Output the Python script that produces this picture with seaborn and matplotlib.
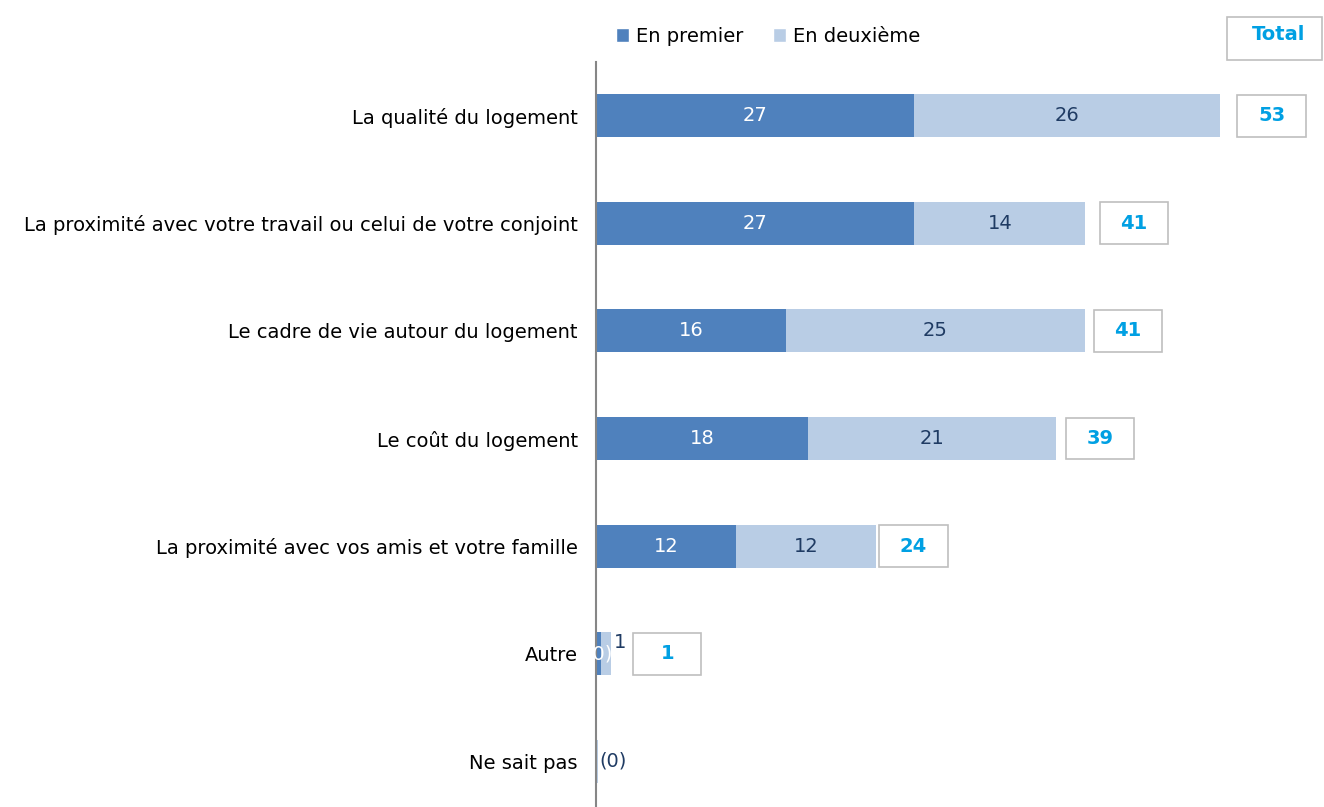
import matplotlib
matplotlib.use("Agg")
import matplotlib.pyplot as plt
from matplotlib.patches import Rectangle, Patch
import seaborn as sns
import pandas as pd

# ---- data ----
categories = [
    "La qualité du logement",
    "La proximité avec votre travail ou celui de votre conjoint",
    "Le cadre de vie autour du logement",
    "Le coût du logement",
    "La proximité avec vos amis et votre famille",
    "Autre",
    "Ne sait pas",
]
# unrounded shares as drawn (labels show the rounded values)
en_premier = [27.0, 27.0, 16.1, 18.0, 11.9, 0.4, 0.0]
en_deuxieme = [26.0, 14.55, 25.45, 21.05, 11.9, 0.9, 0.15]
totals = [53, 41, 41, 39, 24, 1, None]
premier_labels = ["27", "27", "16", "18", "12", "(0)", ""]
deuxieme_labels = ["26", "14", "25", "21", "12", "1", "(0)"]

# gap (in value units) between bar end and its "total" box, as in the original
box_gaps = [1.45, 1.2, 0.7, 0.85, 0.25, 1.85, 0]

DARK = "#4F81BD"
LIGHT = "#B9CDE5"
NAVY = "#1F3B63"
CYAN = "#00A0E3"
FS = 14

df = pd.DataFrame({
    "cat": categories,
    "first": en_premier,
    "second": en_deuxieme,
})
df["cum"] = df["first"] + df["second"]

sns.set_style("white")
plt.rcParams["font.family"] = "sans-serif"
plt.rcParams["font.sans-serif"] = ["DejaVu Sans"]

fig = plt.figure(figsize=(13.24, 8.07), dpi=100)
ax = fig.add_axes([596 / 1324, -8 / 807, 728 / 1324, 753 / 807])

sns.barplot(data=df, x="cum", y="cat", color=LIGHT, width=0.4, ax=ax,
            saturation=1, orient="h", linewidth=0)
sns.barplot(data=df, x="first", y="cat", color=DARK, width=0.4, ax=ax,
            saturation=1, orient="h", linewidth=0)

ax.set_xlim(0, 728 / 11.78)
ax.set_ylim(len(categories) - 0.5, -0.5)
ax.set_xlabel("")
ax.set_ylabel("")
ax.set_xticks([])

for s in ["top", "right", "bottom"]:
    ax.spines[s].set_visible(False)
ax.spines["left"].set_color("#868686")
ax.spines["left"].set_linewidth(1.5)

ax.set_yticks(range(len(categories)))
ax.set_yticklabels(categories, fontsize=FS, color="#000000")
ax.tick_params(axis="y", which="major", length=0, pad=13)
ax.set_yticks([i - 0.5 for i in range(len(categories))], minor=True)
ax.tick_params(axis="y", which="minor", length=6, width=1.2, color="#868686",
               direction="out")

for i, (f, s, tot) in enumerate(zip(en_premier, en_deuxieme, totals)):
    fl, sl = premier_labels[i], deuxieme_labels[i]
    if f >= 2:
        ax.text(f / 2, i, fl, ha="center", va="center", color="white", fontsize=FS)
        ax.text(f + s / 2, i, sl, ha="center", va="center", color=NAVY, fontsize=FS)
    elif fl:
        ax.text(f / 2 + 0.05, i, fl, ha="center", va="center", color="white", fontsize=FS)
        ax.text(f + s + 0.2, i - 0.1, sl, ha="left", va="center", color=NAVY, fontsize=FS)
    else:
        ax.text(f + s + 0.1, i, sl, ha="left", va="center", color=NAVY, fontsize=FS)

    if tot is not None:
        x0 = f + s + box_gaps[i]
        ax.add_patch(Rectangle((x0, i - 0.195), 5.8, 0.39, facecolor="white",
                               edgecolor="#BFBFBF", linewidth=1.2, clip_on=False))
        ax.text(x0 + 2.9, i, str(tot), ha="center", va="center",
                color=CYAN, fontsize=FS, fontweight="bold")

# header "Total" box
fig.patches.append(Rectangle((1227 / 1324, 1 - 60 / 807), 95 / 1324, 43 / 807,
                             transform=fig.transFigure, facecolor="white",
                             edgecolor="#BFBFBF", linewidth=1.2))
fig.text(1279 / 1324, 1 - 34 / 807, "Total", ha="center", va="center",
         color=CYAN, fontsize=FS, fontweight="bold")

handles = [Patch(facecolor=DARK, label="En premier"),
           Patch(facecolor=LIGHT, label="En deuxième")]
fig.legend(handles=handles, loc="center", bbox_to_anchor=(768 / 1324, 1 - 36 / 807),
           ncol=2, frameon=False, fontsize=FS, handlelength=0.7, handleheight=0.7,
           handletextpad=0.35, columnspacing=1.5, labelcolor="black")

fig.savefig("out.png", dpi=100)
